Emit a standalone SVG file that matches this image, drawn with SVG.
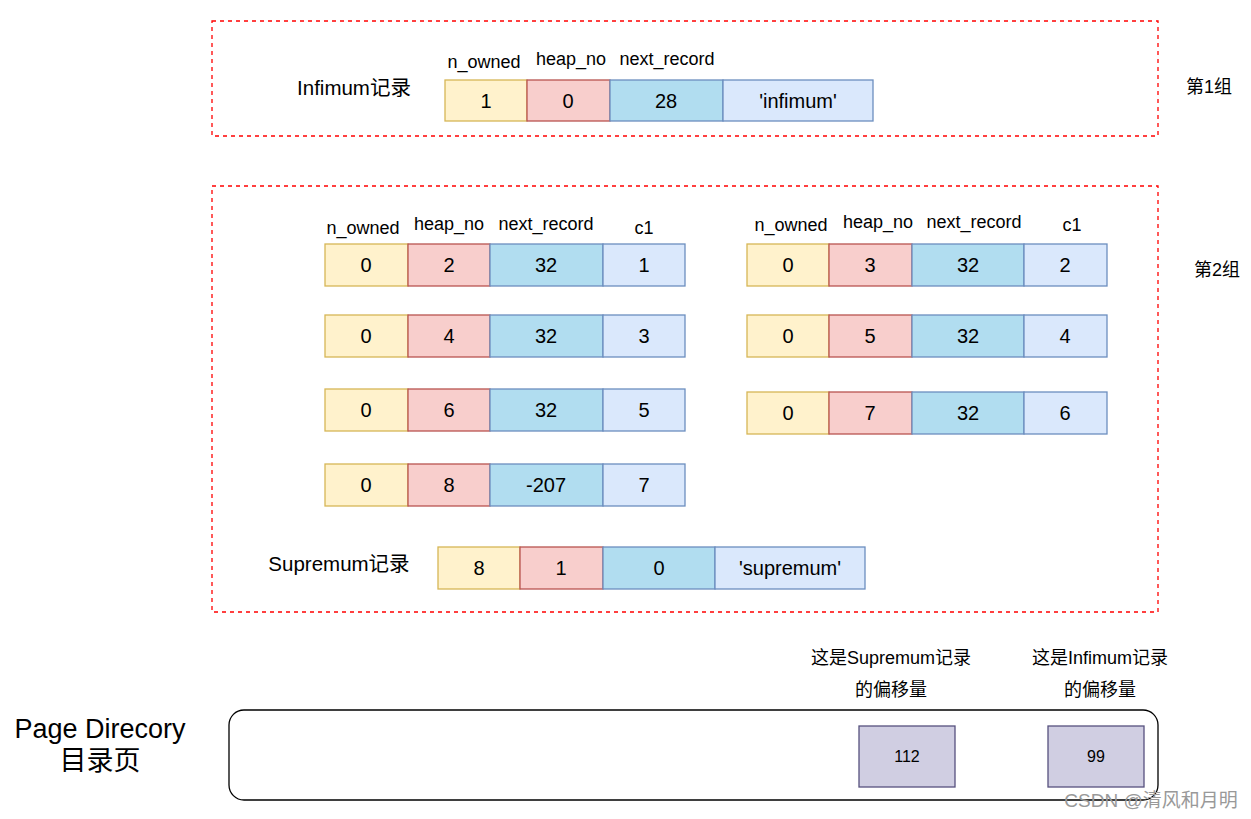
<svg xmlns="http://www.w3.org/2000/svg" width="1251" height="819" viewBox="0 0 1251 819">
<style>
text{font-family:"Liberation Sans",Arial,"Noto Sans CJK SC",sans-serif;fill:#000;text-anchor:middle}
.grp{fill:none;stroke:#ff0000;stroke-width:1.3;stroke-dasharray:4 4}
.y{fill:#fff2cc;stroke:#d6b656;stroke-width:1.3}
.r{fill:#f8cecc;stroke:#b85450;stroke-width:1.3}
.b{fill:#b1ddf0;stroke:#6c8ebf;stroke-width:1.3}
.l{fill:#dae8fc;stroke:#6c8ebf;stroke-width:1.3}
.v{font-size:20px;dominant-baseline:central}
.h{font-size:18px}
.p{fill:#d0cee2;stroke:#56517e;stroke-width:1.3}
</style>
<g id="group1">
<rect class="grp" x="212" y="21" width="946" height="115"/>
<text x="1209" y="93" font-size="18">第1组</text>
</g>
<g id="infimum">
<text x="354" y="95" font-size="20.5">Infimum记录</text>
<text class="h" x="484" y="68">n_owned</text>
<text class="h" x="571" y="65">heap_no</text>
<text class="h" x="667" y="65">next_record</text>
<rect class="y" x="445" y="80" width="82" height="41"/>
<rect class="r" x="527" y="80" width="83" height="41"/>
<rect class="b" x="610" y="80" width="113" height="41"/>
<rect class="l" x="723" y="80" width="150" height="41"/>
<text class="v" x="486" y="101">1</text>
<text class="v" x="568" y="101">0</text>
<text class="v" x="666" y="101">28</text>
<text class="v" x="798" y="101">'infimum'</text>
</g>
<g id="group2">
<rect class="grp" x="212" y="186" width="946" height="426"/>
<text x="1217" y="276" font-size="18">第2组</text>
</g>
<g id="left-header">
<text class="h" x="363" y="234">n_owned</text>
<text class="h" x="449" y="230">heap_no</text>
<text class="h" x="546" y="230">next_record</text>
<text class="h" x="644" y="234">c1</text>
</g>
<g id="right-header">
<text class="h" x="791" y="231">n_owned</text>
<text class="h" x="878" y="228">heap_no</text>
<text class="h" x="974" y="228">next_record</text>
<text class="h" x="1072" y="231">c1</text>
</g>
<g id="rec-l1"><rect class="y" x="325" y="244" width="83" height="42"/><rect class="r" x="408" y="244" width="82" height="42"/><rect class="b" x="490" y="244" width="113" height="42"/><rect class="l" x="603" y="244" width="82" height="42"/>
<text class="v" x="366" y="265">0</text><text class="v" x="449" y="265">2</text><text class="v" x="546" y="265">32</text><text class="v" x="644" y="265">1</text></g>
<g id="rec-l2"><rect class="y" x="325" y="315" width="83" height="42"/><rect class="r" x="408" y="315" width="82" height="42"/><rect class="b" x="490" y="315" width="113" height="42"/><rect class="l" x="603" y="315" width="82" height="42"/>
<text class="v" x="366" y="336">0</text><text class="v" x="449" y="336">4</text><text class="v" x="546" y="336">32</text><text class="v" x="644" y="336">3</text></g>
<g id="rec-l3"><rect class="y" x="325" y="389" width="83" height="42"/><rect class="r" x="408" y="389" width="82" height="42"/><rect class="b" x="490" y="389" width="113" height="42"/><rect class="l" x="603" y="389" width="82" height="42"/>
<text class="v" x="366" y="410">0</text><text class="v" x="449" y="410">6</text><text class="v" x="546" y="410">32</text><text class="v" x="644" y="410">5</text></g>
<g id="rec-l4"><rect class="y" x="325" y="464" width="83" height="42"/><rect class="r" x="408" y="464" width="82" height="42"/><rect class="b" x="490" y="464" width="113" height="42"/><rect class="l" x="603" y="464" width="82" height="42"/>
<text class="v" x="366" y="485">0</text><text class="v" x="449" y="485">8</text><text class="v" x="546" y="485">-207</text><text class="v" x="644" y="485">7</text></g>
<g id="rec-r1"><rect class="y" x="747" y="244" width="82" height="42"/><rect class="r" x="829" y="244" width="83" height="42"/><rect class="b" x="912" y="244" width="112" height="42"/><rect class="l" x="1024" y="244" width="83" height="42"/>
<text class="v" x="788" y="265">0</text><text class="v" x="870" y="265">3</text><text class="v" x="968" y="265">32</text><text class="v" x="1065" y="265">2</text></g>
<g id="rec-r2"><rect class="y" x="747" y="315" width="82" height="42"/><rect class="r" x="829" y="315" width="83" height="42"/><rect class="b" x="912" y="315" width="112" height="42"/><rect class="l" x="1024" y="315" width="83" height="42"/>
<text class="v" x="788" y="336">0</text><text class="v" x="870" y="336">5</text><text class="v" x="968" y="336">32</text><text class="v" x="1065" y="336">4</text></g>
<g id="rec-r3"><rect class="y" x="747" y="392" width="82" height="42"/><rect class="r" x="829" y="392" width="83" height="42"/><rect class="b" x="912" y="392" width="112" height="42"/><rect class="l" x="1024" y="392" width="83" height="42"/>
<text class="v" x="788" y="413">0</text><text class="v" x="870" y="413">7</text><text class="v" x="968" y="413">32</text><text class="v" x="1065" y="413">6</text></g>
<g id="supremum">
<text x="339" y="571" font-size="20.5">Supremum记录</text>
<rect class="y" x="438" y="547" width="82" height="42"/>
<rect class="r" x="520" y="547" width="83" height="42"/>
<rect class="b" x="603" y="547" width="112" height="42"/>
<rect class="l" x="715" y="547" width="150" height="42"/>
<text class="v" x="479" y="568">8</text>
<text class="v" x="561" y="568">1</text>
<text class="v" x="659" y="568">0</text>
<text class="v" x="790" y="568">'supremum'</text>
</g>
<g id="page-directory">
<text x="100" y="738" font-size="27">Page Direcory</text>
<text x="100" y="770" font-size="27">目录页</text>
<rect x="229" y="710" width="929" height="90" rx="15" ry="15" fill="#fff" stroke="#000" stroke-width="1.3"/>
</g>
<g id="slot-112">
<text x="891" y="664" font-size="18">这是Supremum记录</text>
<text x="891" y="696" font-size="18">的偏移量</text>
<rect class="p" x="859" y="726" width="96" height="61"/>
<text x="907" y="762" font-size="16">112</text>
</g>
<g id="slot-99">
<text x="1100" y="664" font-size="18">这是Infimum记录</text>
<text x="1100" y="696" font-size="18">的偏移量</text>
<rect class="p" x="1048" y="726" width="96" height="61"/>
<text x="1096" y="762" font-size="16">99</text>
</g>
<text x="1151" y="807" font-size="19" style="fill:#999">CSDN @清风和月明</text>
<g id="connectors"></g>
</svg>
